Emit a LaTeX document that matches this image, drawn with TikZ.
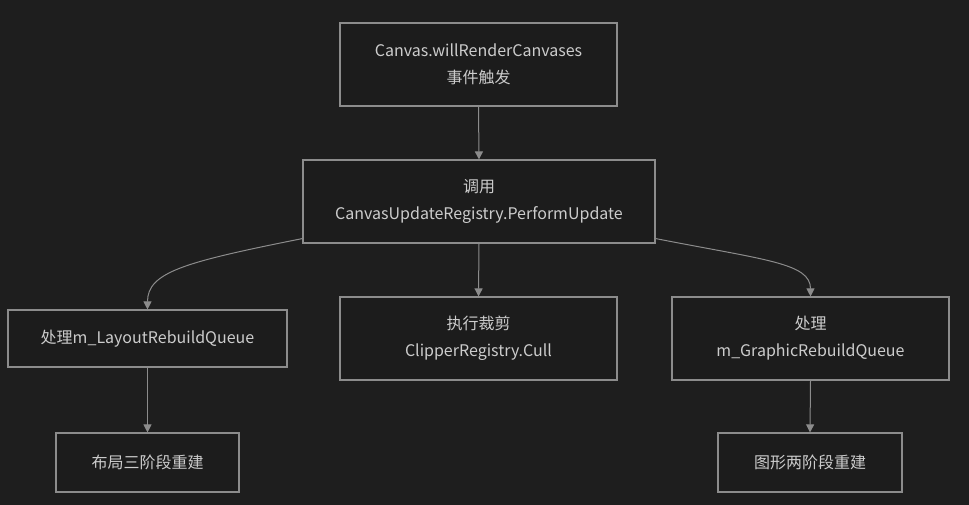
\documentclass[tikz,border=0pt]{standalone}
\usepackage{fontspec}
\setmainfont{Noto Sans CJK SC}
\usetikzlibrary{arrows.meta}
\definecolor{bg}{RGB}{30,30,30}
\definecolor{boxfill}{RGB}{28,28,28}
\definecolor{edge}{RGB}{140,140,140}
\definecolor{txt}{RGB}{204,204,204}
\tikzset{
  box/.style={draw=edge, fill=boxfill, line width=1.1pt, text=txt, align=center,
    inner sep=0pt, font=\fontsize{16}{27}\selectfont, rectangle},
  link/.style={draw=edge, line width=1pt, -{Triangle[width=8pt,length=8pt]}},
}
\begin{document}
\begin{tikzpicture}[x=1pt,y=-1pt]
\fill[bg] (0,0) rectangle (969,505);
\useasboundingbox (0,0) rectangle (969,505);
\node[box, minimum width=277pt, minimum height=83pt] (a) at (478.5,64.5) {Canvas.willRenderCanvases\\事件触发};
\node[box, minimum width=352pt, minimum height=83pt] (b) at (479,201.5) {调用\\CanvasUpdateRegistry.PerformUpdate};
\node[box, minimum width=279pt, minimum height=57pt] (c) at (147.5,338.5) {处理m\_LayoutRebuildQueue};
\node[box, minimum width=277pt, minimum height=83pt] (d) at (478.5,338.5) {执行裁剪\\ClipperRegistry.Cull};
\node[box, minimum width=277pt, minimum height=83pt] (e) at (810.5,338.5) {处理\\m\_GraphicRebuildQueue};
\node[box, minimum width=183pt, minimum height=59pt] (f) at (147.5,462.5) {布局三阶段重建};
\node[box, minimum width=184pt, minimum height=59pt] (g) at (810,462.5) {图形两阶段重建};
\draw[link] (a.south) -- (b.north);
\draw[link] (b.south) -- (d.north);
\draw[link] (b.south west) ++(0,-5) coordinate (bl) (bl) .. controls (185,262) and (147.5,272) .. (c.north);
\draw[link] (b.south east) ++(0,-5) coordinate (br) (br) .. controls (765,260) and (810.5,263) .. (e.north);
\draw[link] (c.south) -- (f.north);
\draw[link] (e.south) -- (g.north);
\end{tikzpicture}
\end{document}
